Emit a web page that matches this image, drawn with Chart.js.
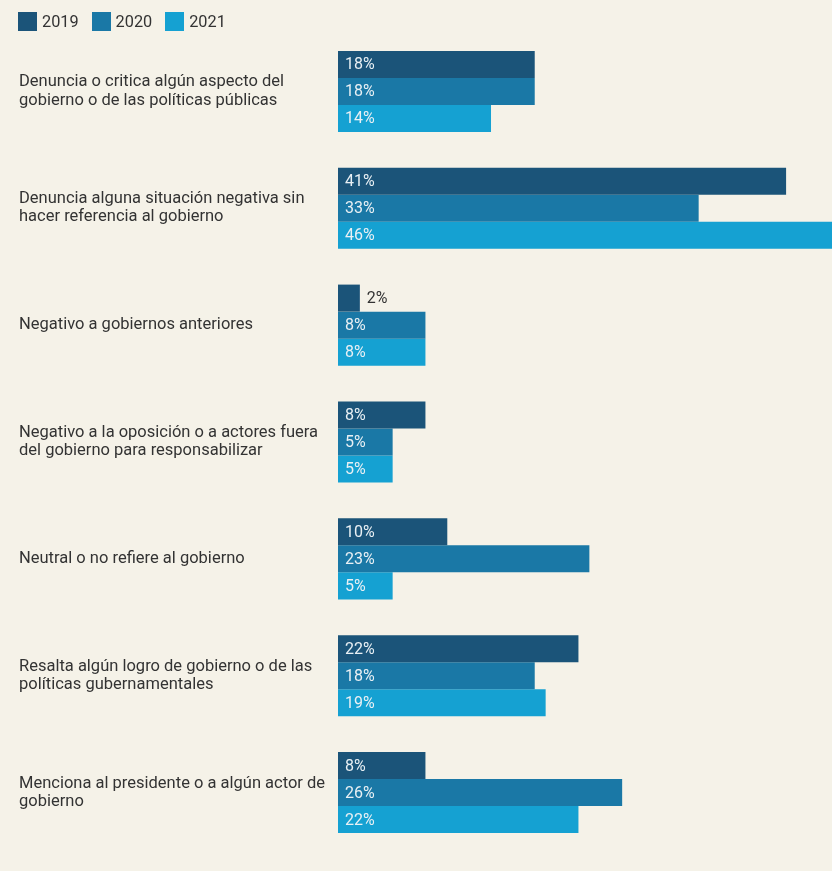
<!DOCTYPE html>
<html>
<head>
<meta charset="utf-8">
<script src="https://cdn.jsdelivr.net/npm/chart.js@4.4.0/dist/chart.umd.min.js"></script>
<style>
  body { margin: 0; background: #f5f2e8; }
  #wrap { position: relative; width: 832px; height: 871px; }
  #legend { position: absolute; left: 18px; top: 12px; display: flex; font: 16.3px Roboto, sans-serif; color: #333; }
  #legend .item { display: flex; align-items: center; margin-right: 13px; }
  #legend .box { width: 19px; height: 19px; margin-right: 5px; }
</style>
</head>
<body>
<div id="wrap">
  <div id="legend"></div>
  <canvas id="chart" width="832" height="871"></canvas>
</div>
<script>
const categories = [
  ['Denuncia o critica algún aspecto del', 'gobierno o de las políticas públicas'],
  ['Denuncia alguna situación negativa sin', 'hacer referencia al gobierno'],
  ['Negativo a gobiernos anteriores'],
  ['Negativo a la oposición o a actores fuera', 'del gobierno para responsabilizar'],
  ['Neutral o no refiere al gobierno'],
  ['Resalta algún logro de gobierno o de las', 'políticas gubernamentales'],
  ['Menciona al presidente o a algún actor de', 'gobierno']
];
const years = ['2019', '2020', '2021'];
const values2019 = [18, 41, 2, 8, 10, 22, 8];
const values2020 = [18, 33, 8, 5, 23, 18, 26];
const values2021 = [14, 46, 8, 5, 5, 19, 22];
const colors = ['#1b5479', '#1a78a6', '#15a1d2'];

// legend
const legendEl = document.getElementById('legend');
years.forEach((y, i) => {
  const item = document.createElement('div');
  item.className = 'item';
  item.innerHTML = `<span class="box" style="background:${colors[i]}"></span>${y}`;
  legendEl.appendChild(item);
});

const valueLabels = {
  id: 'valueLabels',
  afterDatasetsDraw(chart) {
    const ctx = chart.ctx;
    ctx.save();
    ctx.font = '16px Roboto, sans-serif';
    ctx.textBaseline = 'middle';
    ctx.textAlign = 'left';
    chart.data.datasets.forEach((ds, di) => {
      chart.getDatasetMeta(di).data.forEach((bar, i) => {
        const text = ds.data[i] + '%';
        if (bar.x - bar.base < 32) {
          ctx.fillStyle = '#333';
          ctx.fillText(text, bar.x + 7, bar.y + 1);
        } else {
          ctx.fillStyle = '#e9f0f4';
          ctx.fillText(text, bar.base + 7, bar.y + 1);
        }
      });
    });
    ctx.restore();
  }
};

new Chart(document.getElementById('chart'), {
  type: 'bar',
  data: {
    labels: categories,
    datasets: [
      { label: years[0], data: values2019, backgroundColor: colors[0] },
      { label: years[1], data: values2020, backgroundColor: colors[1] },
      { label: years[2], data: values2021, backgroundColor: colors[2] }
    ]
  },
  options: {
    indexAxis: 'y',
    responsive: false,
    animation: false,
    layout: { padding: { top: 33, bottom: 20, left: 19, right: 0 } },
    categoryPercentage: 0.694,
    barPercentage: 1,
    plugins: {
      legend: { display: false },
      tooltip: { enabled: false }
    },
    scales: {
      x: { display: false, min: 0, max: 45.2 },
      y: {
        grid: { display: false, drawTicks: false },
        border: { display: false },
        ticks: {
          crossAlign: 'far',
          padding: 0,
          color: '#333',
          font: { family: 'Roboto', size: 16.5, lineHeight: 1.1 }
        },
        afterFit: (scale) => { scale.width = 319; }
      }
    }
  },
  plugins: [valueLabels]
});
</script>
</body>
</html>
